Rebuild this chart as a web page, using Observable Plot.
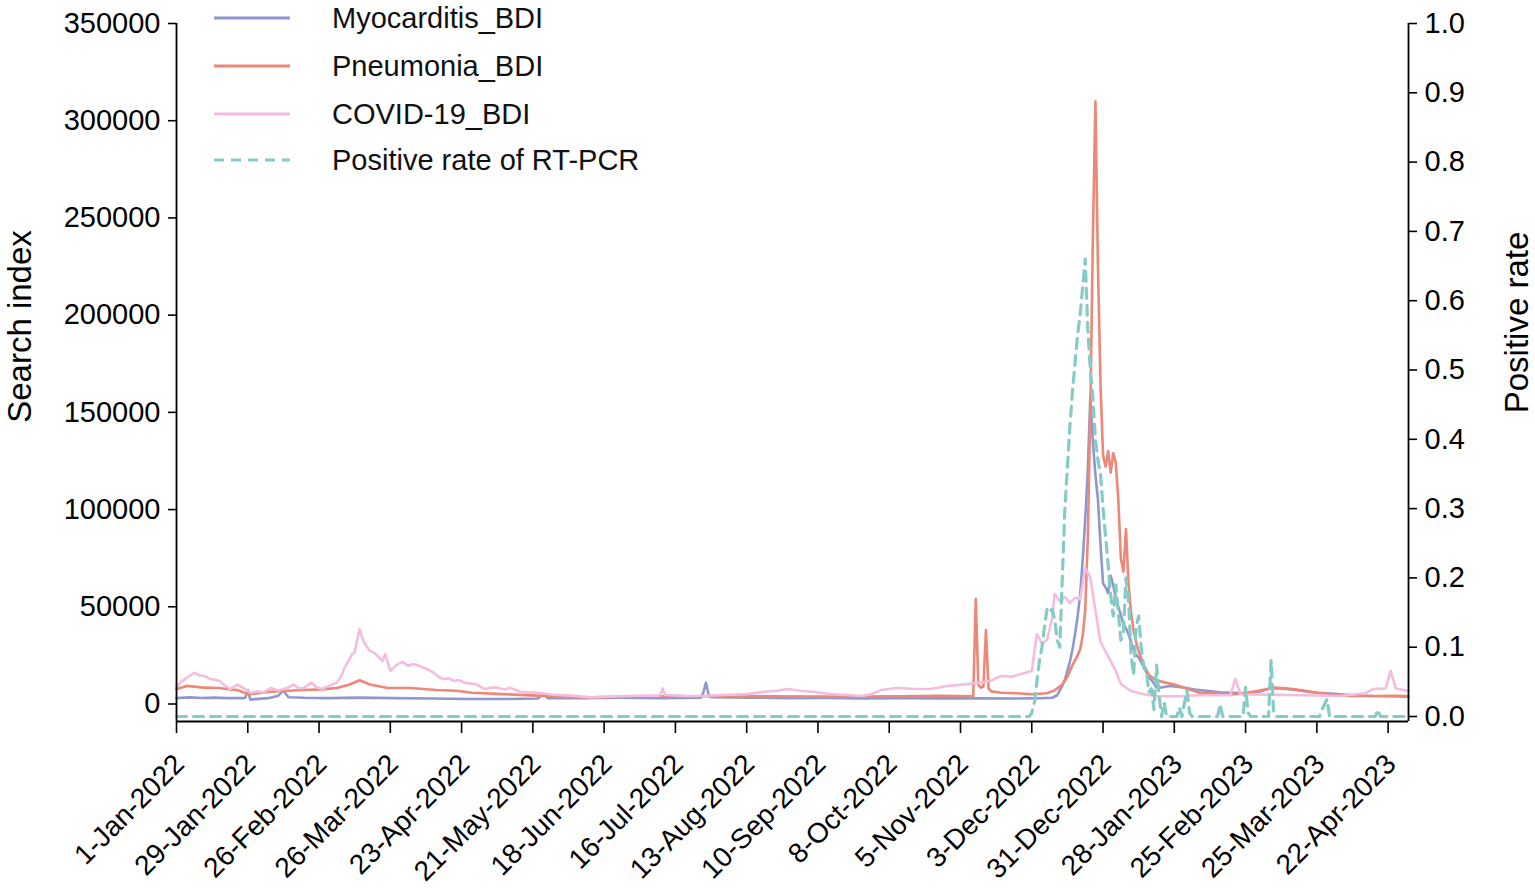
<!DOCTYPE html>
<html><head><meta charset="utf-8">
<script src="https://cdn.jsdelivr.net/npm/d3@7"></script>
<script src="https://cdn.jsdelivr.net/npm/@observablehq/plot@0.6"></script>
<style>
body{margin:0;background:#fff;overflow:hidden;font-family:"Liberation Sans",Arial,sans-serif;}
#wrap{position:relative;width:1535px;height:892px;}
.row{position:absolute;left:214px;height:40px;display:flex;align-items:center;font-size:29px;color:#111;white-space:nowrap;}
.row svg{width:76px;height:8px;margin-right:42px;}
</style></head><body><div id="wrap"><div id="chart"></div><div id="legend"></div></div>
<script>
// ---- data ----
const seriesNames = ["Myocarditis_BDI", "Pneumonia_BDI", "COVID-19_BDI", "Positive rate of RT-PCR"];
const seriesColors = ["#8f98ce", "#ee8776", "#f6bcde", "#85ccc6"];

const xTickLabels = ["1-Jan-2022","29-Jan-2022","26-Feb-2022","26-Mar-2022","23-Apr-2022","21-May-2022",
  "18-Jun-2022","16-Jul-2022","13-Aug-2022","10-Sep-2022","8-Oct-2022","5-Nov-2022","3-Dec-2022",
  "31-Dec-2022","28-Jan-2023","25-Feb-2023","25-Mar-2023","22-Apr-2023"];
const leftTicks = [0, 50000, 100000, 150000, 200000, 250000, 300000, 350000];
const rightTicks = [0, 0.1, 0.2, 0.3, 0.4, 0.5, 0.6, 0.7, 0.8, 0.9, 1.0];

const myocarditis = [
["2022-01-01",3000],["2022-01-06",3400],["2022-01-11",3100],["2022-01-16",3300],["2022-01-21",3000],
["2022-01-27",3000],["2022-01-28",3200],["2022-01-29",7200],["2022-01-30",2200],["2022-02-01",2500],
["2022-02-06",3000],["2022-02-10",4300],["2022-02-12",6800],["2022-02-14",3500],["2022-02-20",3200],
["2022-03-02",3000],["2022-03-14",3300],["2022-03-27",3000],["2022-04-11",2800],["2022-04-26",2600],
["2022-05-11",2600],["2022-05-23",2800],["2022-05-25",5300],["2022-05-27",3000],["2022-06-10",3000],
["2022-06-25",3200],["2022-07-10",3000],["2022-07-26",3300],["2022-07-27",6000],["2022-07-28",11000],
["2022-07-29",5000],["2022-07-30",3500],["2022-08-14",3300],["2022-08-29",3000],["2022-09-13",3100],
["2022-09-28",2800],["2022-10-13",3000],["2022-10-28",2900],["2022-11-12",2900],["2022-11-27",2800],
["2022-12-07",3000],["2022-12-11",3200],["2022-12-13",4500],["2022-12-14",7000],["2022-12-15",9500],
["2022-12-16",12500],["2022-12-17",17000],["2022-12-18",22000],["2022-12-19",28000],["2022-12-20",36000],
["2022-12-21",45000],["2022-12-22",56000],["2022-12-23",74000],["2022-12-24",95000],["2022-12-25",120000],
["2022-12-26",158000],["2022-12-27",135000],["2022-12-28",118000],["2022-12-29",105000],["2022-12-30",82000],
["2022-12-31",62000],["2023-01-01",60000],["2023-01-02",57000],["2023-01-03",66000],["2023-01-04",61000],
["2023-01-05",55000],["2023-01-06",50000],["2023-01-07",46000],["2023-01-08",41000],["2023-01-09",39000],
["2023-01-10",36000],["2023-01-11",32000],["2023-01-12",28000],["2023-01-13",25000],["2023-01-14",24000],
["2023-01-16",19000],["2023-01-18",14000],["2023-01-20",10500],["2023-01-21",8500],["2023-01-23",8500],
["2023-01-26",9300],["2023-01-30",8800],["2023-02-05",7500],["2023-02-15",6000],["2023-02-25",5500],
["2023-03-03",6500],["2023-03-07",8200],["2023-03-13",7700],["2023-03-18",7000],["2023-03-25",5800],
["2023-04-01",5200],["2023-04-08",4500],["2023-04-16",4100],["2023-04-24",4000],["2023-04-30",3800]
];

const pneumonia = [
["2022-01-01",7700],["2022-01-05",9300],["2022-01-09",8800],["2022-01-12",8400],["2022-01-18",8200],
["2022-01-22",7500],["2022-01-25",7200],["2022-01-29",5100],["2022-02-02",5500],["2022-02-07",6300],
["2022-02-14",6800],["2022-02-20",7200],["2022-02-27",7500],["2022-03-05",8200],["2022-03-10",10000],
["2022-03-14",12200],["2022-03-18",10000],["2022-03-25",8200],["2022-04-03",8200],["2022-04-13",7200],
["2022-04-21",6800],["2022-04-27",5800],["2022-05-09",5100],["2022-05-23",4300],["2022-06-02",3600],
["2022-06-13",3400],["2022-06-25",3800],["2022-07-10",3900],["2022-07-26",4000],["2022-08-09",4200],
["2022-08-24",3900],["2022-09-08",3800],["2022-09-23",3800],["2022-10-12",4000],["2022-10-28",4200],
["2022-11-10",4000],["2022-11-11",54000],["2022-11-12",10000],["2022-11-13",8400],["2022-11-14",9000],
["2022-11-15",38000],["2022-11-16",8000],["2022-11-17",6500],["2022-11-21",5800],["2022-11-27",5500],
["2022-12-03",5000],["2022-12-09",5500],["2022-12-12",7000],["2022-12-15",10000],["2022-12-17",14000],
["2022-12-19",20000],["2022-12-21",25000],["2022-12-22",28000],["2022-12-23",35000],["2022-12-24",48000],
["2022-12-25",85000],["2022-12-26",150000],["2022-12-27",240000],["2022-12-28",310000],["2022-12-29",225000],
["2022-12-30",165000],["2022-12-31",128000],["2023-01-01",122000],["2023-01-02",130000],["2023-01-03",119000],
["2023-01-04",129000],["2023-01-05",124000],["2023-01-06",105000],["2023-01-07",75000],["2023-01-08",68000],
["2023-01-09",90000],["2023-01-10",62000],["2023-01-11",47000],["2023-01-12",38000],["2023-01-13",32000],
["2023-01-14",27000],["2023-01-16",20000],["2023-01-18",15000],["2023-01-20",13000],["2023-01-23",11500],
["2023-01-28",10000],["2023-02-02",7800],["2023-02-07",5800],["2023-02-15",5200],["2023-02-21",5000],
["2023-03-01",6500],["2023-03-08",8400],["2023-03-14",8000],["2023-03-19",7000],["2023-03-25",5800],
["2023-04-01",4800],["2023-04-07",4100],["2023-04-16",4100],["2023-04-24",4200],["2023-04-30",4100]
];

const covid = [
["2022-01-01",8800],["2022-01-03",11500],["2022-01-05",13500],["2022-01-08",16000],["2022-01-10",14800],
["2022-01-12",14400],["2022-01-14",13000],["2022-01-16",12500],["2022-01-18",11800],["2022-01-20",9500],
["2022-01-22",7700],["2022-01-25",10000],["2022-01-27",8400],["2022-01-30",5800],["2022-02-02",6500],
["2022-02-04",5800],["2022-02-07",8200],["2022-02-10",7000],["2022-02-12",7700],["2022-02-14",8500],
["2022-02-16",10000],["2022-02-18",8000],["2022-02-20",8200],["2022-02-23",11000],["2022-02-25",8500],
["2022-02-27",7700],["2022-03-02",9300],["2022-03-05",11000],["2022-03-07",15000],["2022-03-08",18700],
["2022-03-10",23000],["2022-03-11",25700],["2022-03-12",26400],["2022-03-13",33000],["2022-03-14",38500],
["2022-03-15",34000],["2022-03-16",31000],["2022-03-18",27300],["2022-03-20",26000],["2022-03-21",24700],
["2022-03-23",22100],["2022-03-24",25700],["2022-03-26",17000],["2022-03-28",19500],["2022-03-29",20600],
["2022-03-31",21600],["2022-04-02",19600],["2022-04-04",20600],["2022-04-06",19800],["2022-04-08",18700],
["2022-04-10",17500],["2022-04-12",16100],["2022-04-14",14000],["2022-04-16",12700],["2022-04-18",13200],
["2022-04-20",11800],["2022-04-22",12300],["2022-04-24",11000],["2022-04-27",10500],["2022-04-29",10000],
["2022-05-02",7700],["2022-05-05",8500],["2022-05-07",8400],["2022-05-10",7500],["2022-05-12",8400],
["2022-05-16",6300],["2022-05-19",6000],["2022-05-23",5800],["2022-05-29",4800],["2022-06-05",4300],
["2022-06-13",3400],["2022-06-20",3800],["2022-06-28",4100],["2022-07-05",4400],["2022-07-10",4300],
["2022-07-11",8000],["2022-07-12",4600],["2022-07-20",4200],["2022-07-26",4100],["2022-08-04",4600],
["2022-08-13",5100],["2022-08-20",6300],["2022-08-25",6800],["2022-08-29",7700],["2022-09-03",6800],
["2022-09-08",6300],["2022-09-15",5100],["2022-09-21",4600],["2022-09-27",4100],["2022-10-01",5000],
["2022-10-05",7200],["2022-10-11",8200],["2022-10-18",7700],["2022-10-24",7700],["2022-10-31",9300],
["2022-11-06",10000],["2022-11-13",11000],["2022-11-17",12000],["2022-11-21",14400],["2022-11-25",14000],
["2022-11-29",15500],["2022-12-03",17000],["2022-12-05",36000],["2022-12-07",31000],["2022-12-09",33000],
["2022-12-11",44000],["2022-12-12",56600],["2022-12-14",53000],["2022-12-16",55000],["2022-12-18",52000],
["2022-12-20",54600],["2022-12-22",54000],["2022-12-24",70000],["2022-12-26",65000],["2022-12-28",48000],
["2022-12-30",32000],["2023-01-01",27000],["2023-01-03",22000],["2023-01-05",17000],["2023-01-07",10300],
["2023-01-11",6700],["2023-01-16",5000],["2023-01-21",4000],["2023-01-30",4000],["2023-02-07",4500],
["2023-02-19",4500],["2023-02-21",12900],["2023-02-23",5000],["2023-03-07",4800],["2023-03-19",4500],
["2023-04-03",4100],["2023-04-13",5500],["2023-04-16",7700],["2023-04-21",8000],["2023-04-23",17000],
["2023-04-25",8000],["2023-04-30",6700]
];

const positiveRate = [
["2022-01-01",0],["2022-12-02",0],["2022-12-03",0.005],["2022-12-04",0.02],["2022-12-05",0.05],
["2022-12-06",0.08],["2022-12-07",0.10],["2022-12-08",0.13],["2022-12-09",0.155],["2022-12-10",0.15],
["2022-12-11",0.155],["2022-12-12",0.14],["2022-12-13",0.11],["2022-12-14",0.10],["2022-12-15",0.20],
["2022-12-16",0.30],["2022-12-17",0.36],["2022-12-18",0.42],["2022-12-19",0.47],["2022-12-20",0.51],
["2022-12-21",0.55],["2022-12-22",0.58],["2022-12-23",0.62],["2022-12-24",0.66],["2022-12-25",0.56],
["2022-12-26",0.50],["2022-12-27",0.46],["2022-12-28",0.40],["2022-12-29",0.37],["2022-12-30",0.35],
["2022-12-31",0.30],["2023-01-01",0.26],["2023-01-02",0.22],["2023-01-03",0.175],["2023-01-04",0.145],
["2023-01-05",0.19],["2023-01-06",0.15],["2023-01-07",0.11],["2023-01-08",0.12],["2023-01-09",0.20],
["2023-01-10",0.17],["2023-01-11",0.09],["2023-01-12",0.06],["2023-01-13",0.13],["2023-01-14",0.145],
["2023-01-15",0.10],["2023-01-16",0.07],["2023-01-17",0.068],["2023-01-18",0.035],["2023-01-19",0.04],
["2023-01-20",0.01],["2023-01-21",0.074],["2023-01-22",0.03],["2023-01-23",0],["2023-01-24",0.02],
["2023-01-25",0],["2023-01-29",0],["2023-01-30",0.013],["2023-01-31",0],["2023-02-01",0.02],
["2023-02-02",0.037],["2023-02-03",0.005],["2023-02-04",0],["2023-02-14",0],["2023-02-15",0.018],
["2023-02-16",0],["2023-02-24",0],["2023-02-25",0.042],["2023-02-26",0.005],["2023-02-27",0],
["2023-03-06",0],["2023-03-07",0.081],["2023-03-08",0.005],["2023-03-09",0],["2023-03-26",0],
["2023-03-27",0.01],["2023-03-29",0.025],["2023-03-30",0],["2023-04-17",0],["2023-04-18",0.01],
["2023-04-19",0],["2023-04-30",0]
];

// ---- scales / dual axis mapping ----
const parse = d3.utcParse("%Y-%m-%d");
const parseTick = d3.utcParse("%d-%b-%Y");
const xStart = parse("2022-01-01"), xEnd = parse("2023-04-30");
const Y_MIN = -9000, Y_MAX = 350000;
const R_MIN = -5 / 693, R_MAX = 1;
const rateToY = r => Y_MIN + (r - R_MIN) / (R_MAX - R_MIN) * (Y_MAX - Y_MIN);
const yToRate = v => R_MIN + (v - Y_MIN) / (Y_MAX - Y_MIN) * (R_MAX - R_MIN);
const rows = arr => arr.map(([d, v]) => ({date: parse(d), value: v}));
const rateRows = positiveRate.map(([d, r]) => ({date: parse(d), value: rateToY(r)}));
const xTicks = xTickLabels.map(parseTick);

const chart = Plot.plot({
  width: 1535, height: 892,
  marginLeft: 176, marginRight: 127, marginTop: 23, marginBottom: 171,
  x: {type: "utc", domain: [xStart, xEnd]},
  y: {domain: [Y_MIN, Y_MAX]},
  style: {fontFamily: '"Liberation Sans", Arial, sans-serif', background: "white", color: "black", overflow: "visible"},
  marks: [
    Plot.line(rows(myocarditis), {x: "date", y: "value", stroke: seriesColors[0], strokeWidth: 2.6}),
    Plot.line(rows(pneumonia), {x: "date", y: "value", stroke: seriesColors[1], strokeWidth: 2.6}),
    Plot.line(rows(covid), {x: "date", y: "value", stroke: seriesColors[2], strokeWidth: 2.6}),
    Plot.line(rateRows, {x: "date", y: "value", stroke: seriesColors[3], strokeWidth: 3.2, strokeDasharray: "10,7"}),
    Plot.ruleX([xStart, xEnd], {stroke: "black", strokeWidth: 1.8}),
    Plot.ruleY([Y_MIN], {stroke: "black", strokeWidth: 1.8}),
    Plot.axisY(leftTicks, {anchor: "left", tickSize: 8, tickPadding: 8, fontSize: 29, label: null, strokeWidth: 1.6, tickFormat: d => String(d)}),
    Plot.axisY(rightTicks.map(rateToY), {anchor: "right", tickSize: 8, tickPadding: 8, fontSize: 29, label: null, strokeWidth: 1.6,
      tickFormat: v => (Math.round(yToRate(v) * 10) / 10).toFixed(1)}),
    Plot.axisX(xTicks, {anchor: "bottom", tickSize: 12, strokeWidth: 1.6, text: null, label: null}),
    Plot.axisX(xTicks, {anchor: "bottom", tickSize: 0, tickPadding: 38, dx: 3, tickRotate: -45, fontSize: 28, label: null,
      tickFormat: d3.utcFormat("%-d-%b-%Y")}),
    Plot.text(["Search index"], {frameAnchor: "left", text: d => d, textAnchor: "middle", rotate: -90, dx: -156, dy: -46, fontSize: 33}),
    Plot.text(["Positive rate"], {frameAnchor: "right", text: d => d, textAnchor: "middle", rotate: -90, dx: 109, dy: -50, fontSize: 33})
  ]
});
document.getElementById("chart").appendChild(chart);

// ---- legend (HTML, top-left inside the plot area) ----
const legendTops = [-2, 46, 94, 140];
const legend = document.getElementById("legend");
seriesNames.forEach((name, i) => {
  const row = document.createElement("div");
  row.className = "row";
  row.style.top = legendTops[i] + "px";
  const dash = i === 3 ? ' stroke-dasharray="10,7"' : "";
  row.innerHTML = `<svg viewBox="0 0 76 8"><line x1="0" x2="76" y1="4" y2="4" stroke="${seriesColors[i]}" stroke-width="3"${dash}/></svg><span>${name}</span>`;
  legend.appendChild(row);
});
</script>
</body></html>
